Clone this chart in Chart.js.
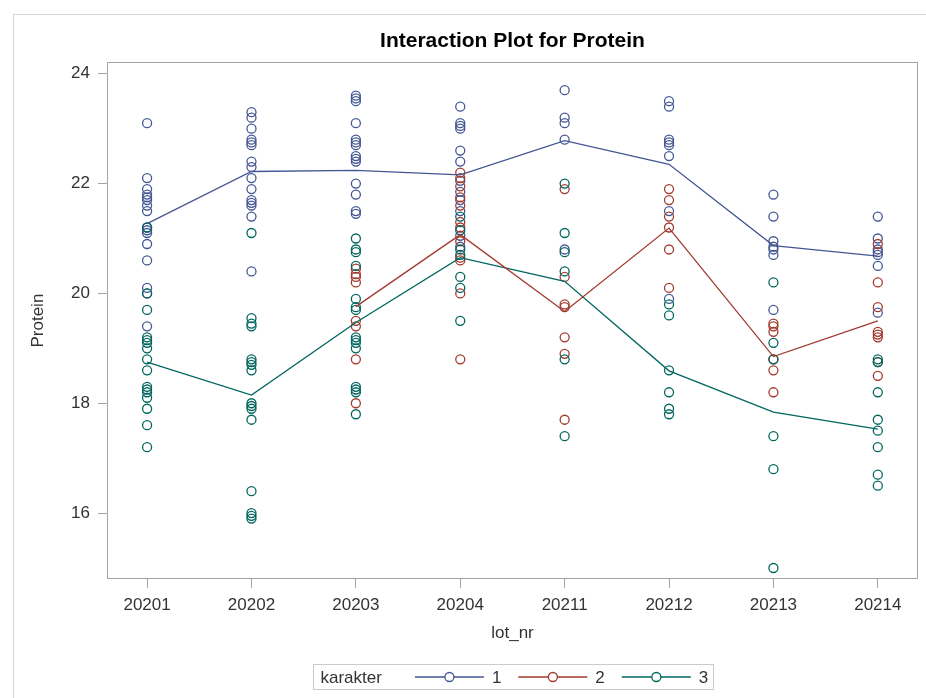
<!DOCTYPE html>
<html>
<head>
<meta charset="utf-8">
<title>Interaction Plot for Protein</title>
<script src="https://cdn.jsdelivr.net/npm/chart.js@4/dist/chart.umd.min.js"></script>
<style>
  html, body { margin: 0; padding: 0; background: #fff; overflow: hidden; }
  #wrap { position: relative; width: 926px; height: 698px; }
  #frame { position: absolute; left: 13px; top: 14px; right: -2px; bottom: -2px;
           border-left: 1px solid #d4d4d4; border-top: 1px solid #d4d4d4; }
  canvas { position: absolute; left: 0; top: 0; }
</style>
</head>
<body>
<div id="wrap">
  <div id="frame"></div>
  <canvas id="chart" width="926" height="698"></canvas>
</div>
<script>
// Lot numbers on the category axis
const lots = ['20201', '20202', '20203', '20204', '20211', '20212', '20213', '20214'];
const yTicks = [16, 18, 20, 22, 24];

// Protein measurements per lot, one array per karakter (index = lot position)
const protein1 = [
  [23.1, 22.1, 21.9, 21.8, 21.75, 21.7, 21.6, 21.5, 21.2, 21.15, 21.1, 20.9, 20.6, 20.1, 20.0, 19.4],
  [23.3, 23.2, 23.0, 22.8, 22.75, 22.7, 22.4, 22.3, 22.1, 21.9, 21.7, 21.65, 21.6, 21.4, 20.4],
  [23.6, 23.55, 23.5, 23.1, 22.8, 22.75, 22.7, 22.5, 22.45, 22.4, 22.0, 21.8, 21.5, 21.45],
  [23.4, 23.1, 23.05, 23.0, 22.6, 22.4, 22.05, 21.85, 21.7, 21.5, 21.05, 20.85],
  [23.7, 23.2, 23.1, 22.8, 20.8],
  [23.5, 23.4, 22.8, 22.75, 22.7, 22.5, 21.5, 19.9],
  [21.8, 21.4, 20.95, 20.85, 20.8, 20.7, 19.7],
  [21.4, 21.0, 20.8, 20.75, 20.7, 20.5, 19.65]
];
const protein2 = [
  [],
  [],
  [20.45, 20.35, 20.3, 20.2, 19.5, 19.4, 18.8, 18.0],
  [22.2, 22.1, 21.95, 21.75, 21.6, 21.3, 21.2, 20.95, 20.65, 20.6, 20.0, 18.8],
  [21.9, 20.3, 19.8, 19.75, 19.2, 18.9, 17.7],
  [21.9, 21.7, 21.4, 21.2, 20.8, 20.1],
  [19.45, 19.4, 19.3, 18.8, 18.6, 18.2],
  [20.9, 20.2, 19.75, 19.3, 19.25, 19.2, 18.75, 18.5]
];
const protein3 = [
  [21.2, 20.0, 19.7, 19.2, 19.15, 19.1, 19.0, 18.8, 18.6, 18.3, 18.25, 18.2, 18.1, 17.9, 17.6, 17.2],
  [21.1, 19.55, 19.45, 19.4, 18.8, 18.75, 18.7, 18.6, 18.0, 17.95, 17.9, 17.7, 16.4, 16.0, 15.95, 15.9],
  [21.0, 20.8, 20.75, 20.5, 19.9, 19.75, 19.7, 19.2, 19.15, 19.1, 19.0, 18.3, 18.25, 18.2, 17.8],
  [21.4, 21.15, 20.8, 20.7, 20.3, 20.1, 19.5],
  [22.0, 21.1, 20.75, 20.4, 18.8, 17.4],
  [19.8, 19.6, 18.6, 18.2, 17.9, 17.8],
  [20.2, 19.1, 18.8, 17.4, 16.8, 15.0],
  [18.8, 18.75, 18.2, 17.7, 17.5, 17.2, 16.7, 16.5]
];

// Lot means per karakter (null = karakter not present in that lot)
const mean1 = [21.27, 22.22, 22.24, 22.16, 22.78, 22.35, 20.87, 20.68];
const mean2 = [null, null, 19.76, 21.07, 19.67, 21.19, 18.85, 19.50];
const mean3 = [18.75, 18.15, 19.47, 20.65, 20.22, 18.59, 17.84, 17.53];

const seriesNames = ['1', '2', '3'];
const seriesColors = ['#445694', '#A23A2E', '#01665E'];
const legendTitle = 'karakter';

const FONT = "'Liberation Sans', Arial, Helvetica, sans-serif";
const AXIS_GRAY = '#a4a4a4';
const TEXT = '#333333';

Chart.defaults.font.family = FONT;
Chart.defaults.font.size = 17;
Chart.defaults.color = TEXT;

function scatterPoints(groups) {
  const pts = [];
  groups.forEach((vals, i) => vals.forEach(v => pts.push({ x: i, y: v })));
  return pts;
}
function meanPoints(means) {
  return means.map((v, i) => ({ x: i, y: v })).filter(p => p.y !== null);
}

const groups = [protein1, protein2, protein3];
const means = [mean1, mean2, mean3];
const datasets = [];
groups.forEach((g, k) => {
  datasets.push({
    type: 'scatter',
    label: seriesNames[k],
    data: scatterPoints(g),
    showLine: false,
    pointStyle: 'circle',
    pointRadius: 4.5,
    pointBorderWidth: 1.3,
    borderColor: seriesColors[k],
    backgroundColor: 'rgba(0,0,0,0)',
    order: 10 - k
  });
});
means.forEach((m, k) => {
  datasets.push({
    type: 'line',
    label: 'mean ' + seriesNames[k],
    data: meanPoints(m),
    borderColor: seriesColors[k],
    borderWidth: 1.3,
    pointRadius: 0,
    fill: false,
    tension: 0,
    order: 1
  });
});

// Box around the plotting area
const plotFrame = {
  id: 'plotFrame',
  beforeDatasetsDraw(chart) {
    const { ctx, chartArea: a } = chart;
    ctx.save();
    ctx.strokeStyle = AXIS_GRAY;
    ctx.lineWidth = 1;
    ctx.strokeRect(Math.round(a.left) + 0.5, Math.round(a.top) + 0.5,
                   Math.round(a.right - a.left) - 1, Math.round(a.bottom - a.top) - 1);
    ctx.restore();
  }
};

// Series key below the axis: "karakter" followed by line+marker samples
const seriesKey = {
  id: 'seriesKey',
  afterDraw(chart) {
    const { ctx, chartArea: a } = chart;
    ctx.save();
    ctx.font = '17px ' + FONT;
    const sample = 69, gapText = 8, gapItem = 17, pad = 7, gapTitle = 33;
    const titleW = ctx.measureText(legendTitle).width;
    const widths = seriesNames.map(n => sample + gapText + ctx.measureText(n).width);
    const total = pad + titleW + gapTitle + widths.reduce((s, w) => s + w, 0) +
                  gapItem * (widths.length - 1) + pad - 2;
    const cx = (a.left + a.right) / 2;
    const left = Math.round(cx - total / 2) + 0.5;
    const top = Math.round(chart.scales.x.bottom + 15) + 0.5;
    const h = 25;
    ctx.strokeStyle = '#cbcbcb';
    ctx.lineWidth = 1;
    ctx.strokeRect(left, top, Math.round(total), h);
    const cy = top + h / 2;
    ctx.textBaseline = 'middle';
    ctx.textAlign = 'left';
    ctx.fillStyle = TEXT;
    ctx.fillText(legendTitle, left + pad, cy + 1);
    let x = left + pad + titleW + gapTitle;
    seriesNames.forEach((n, i) => {
      ctx.strokeStyle = seriesColors[i];
      ctx.lineWidth = 1.3;
      ctx.beginPath();
      ctx.moveTo(x, cy);
      ctx.lineTo(x + sample, cy);
      ctx.stroke();
      ctx.beginPath();
      ctx.fillStyle = '#ffffff';
      ctx.arc(x + sample / 2, cy, 4.5, 0, Math.PI * 2);
      ctx.fill();
      ctx.stroke();
      ctx.fillStyle = TEXT;
      ctx.fillText(n, x + sample + gapText, cy + 1);
      x += widths[i] + gapItem;
    });
    ctx.restore();
  }
};

new Chart(document.getElementById('chart'), {
  type: 'scatter',
  data: { datasets },
  plugins: [plotFrame, seriesKey],
  options: {
    responsive: false,
    animation: false,
    events: [],
    layout: { padding: { left: 0, right: 8, top: 0, bottom: 49 } },
    plugins: {
      legend: { display: false },
      tooltip: { enabled: false },
      title: {
        display: true,
        fullSize: false,
        text: 'Interaction Plot for Protein',
        color: '#000000',
        font: { family: FONT, size: 21, weight: 'bold', lineHeight: 1.2 },
        padding: { top: 29, bottom: 8 }
      }
    },
    scales: {
      x: {
        type: 'linear',
        min: -0.384,
        max: 7.385,
        afterBuildTicks: s => { s.ticks = lots.map((_, i) => ({ value: i })); },
        afterFit: s => { s.height = 70; },
        ticks: {
          padding: 7,
          color: TEXT,
          font: { size: 17 },
          maxRotation: 0,
          autoSkip: false,
          callback: v => lots[v]
        },
        grid: {
          display: true,
          drawOnChartArea: false,
          drawTicks: true,
          tickLength: 9,
          color: AXIS_GRAY
        },
        border: { display: false },
        title: {
          display: true,
          text: 'lot_nr',
          color: TEXT,
          font: { size: 17, lineHeight: 1.2 },
          padding: { top: 0, bottom: 5 }
        }
      },
      y: {
        type: 'linear',
        min: 14.80,
        max: 24.21,
        afterBuildTicks: s => { s.ticks = yTicks.map(v => ({ value: v })); },
        afterFit: s => { s.width = 107; },
        ticks: { padding: 8, color: TEXT, font: { size: 17 } },
        grid: {
          display: true,
          drawOnChartArea: false,
          drawTicks: true,
          tickLength: 9,
          color: AXIS_GRAY
        },
        border: { display: false },
        title: {
          display: true,
          text: 'Protein',
          color: TEXT,
          font: { size: 17, lineHeight: 1.2 },
          padding: { top: 28, bottom: 0 }
        }
      }
    }
  }
});
</script>
</body>
</html>
